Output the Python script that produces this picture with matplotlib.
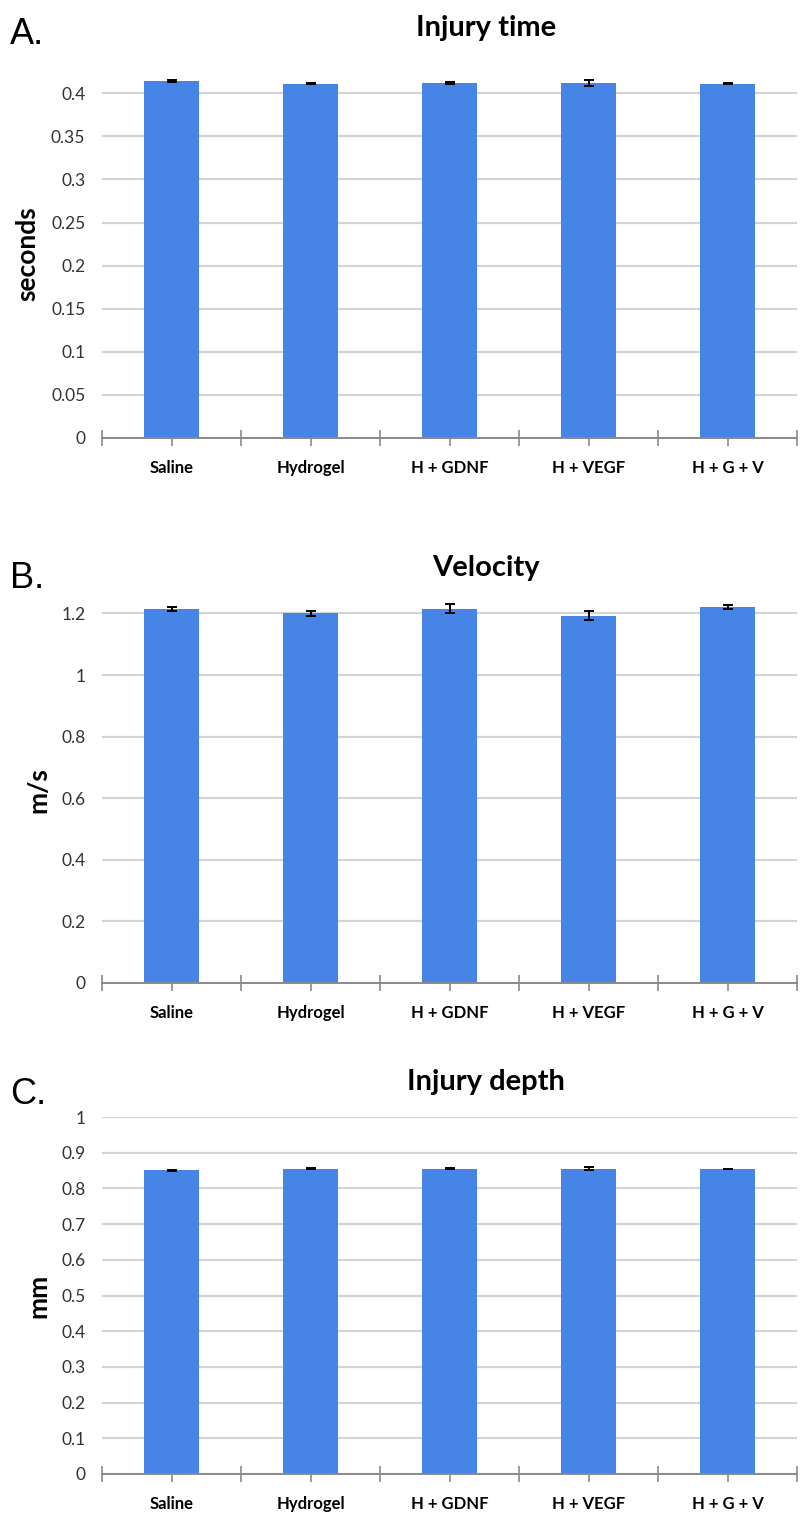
import matplotlib.pyplot as plt
import numpy as np

groups = ["Saline", "Hydrogel", "H + GDNF", "H + VEGF", "H + G + V"]

time_vals = [0.414, 0.411, 0.412, 0.412, 0.411]
time_err = [0.001, 0.0006, 0.001, 0.003, 0.0006]
time_ticks = [0, 0.05, 0.1, 0.15, 0.2, 0.25, 0.3, 0.35, 0.4]
time_labels = ["0", "0.05", "0.1", "0.15", "0.2", "0.25", "0.3", "0.35", "0.4"]

vel_vals = [1.215, 1.2, 1.215, 1.192, 1.22]
vel_err = [0.007, 0.009, 0.014, 0.015, 0.006]
vel_ticks = [0, 0.2, 0.4, 0.6, 0.8, 1.0, 1.2]
vel_labels = ["0", "0.2", "0.4", "0.6", "0.8", "1", "1.2"]

depth_vals = [0.851, 0.855, 0.855, 0.855, 0.854]
depth_err = [0.0015, 0.002, 0.002, 0.004, 0.001]
depth_ticks = [0, 0.1, 0.2, 0.3, 0.4, 0.5, 0.6, 0.7, 0.8, 0.9, 1.0]
depth_labels = ["0", "0.1", "0.2", "0.3", "0.4", "0.5", "0.6", "0.7", "0.8", "0.9", "1"]

W, H = 801, 1515
fig = plt.figure(figsize=(W / 100, H / 100), dpi=100)

bar_color = "#4684e6"
axis_gray = "#8a8a8a"
grid_gray = "#d4d4d4"

def panel(top, bottom, vals, err, ticks, labels, ymax, title, ylabel, letter, title_y, letter_y):
    left, right = 102, 797
    ax = fig.add_axes([left / W, 1 - bottom / H, (right - left) / W, (bottom - top) / H])
    x = np.arange(len(groups))
    ax.bar(x, vals, width=0.4, color=bar_color, zorder=3)
    ax.errorbar(x, vals, yerr=err, fmt="none", ecolor="black", elinewidth=1.4,
                capsize=3.5, capthick=1.4, zorder=4)
    ax.set_xlim(-0.5, len(groups) - 0.5)
    ax.set_ylim(0, ymax)
    ax.set_yticks(ticks)
    ax.set_yticklabels(labels, fontsize=12.5, color="#333333", family="Lato")
    ax.yaxis.grid(True, color=grid_gray, linewidth=1.6, zorder=0)
    ax.tick_params(axis="y", length=0, pad=12)
    for s in ["top", "right", "left"]:
        ax.spines[s].set_visible(False)
    ax.spines["bottom"].set_color(axis_gray)
    ax.spines["bottom"].set_linewidth(1.4)
    ax.spines["bottom"].set_zorder(5)
    ax.set_xticks(x)
    ax.set_xticklabels(groups, fontsize=12, fontweight="bold", family="Lato")
    ax.set_xticks(np.arange(-0.5, len(groups)), minor=True)
    ax.tick_params(axis="x", which="major", direction="out", length=6,
                   color=axis_gray, width=1.2, pad=10)
    ax.tick_params(axis="x", which="minor", direction="inout", length=12,
                   color=axis_gray, width=1.2)
    ax.set_ylabel(ylabel, fontsize=19, fontweight="bold", family="Lato", labelpad=8)
    fig.text(486 / W, 1 - title_y / H, title, fontsize=21, fontweight="bold",
             family="Lato", ha="center", va="center")
    fig.text(10 / W, 1 - letter_y / H, letter, fontsize=26, family="Liberation Sans",
             ha="left", va="center")
    return ax

panel(70, 438, time_vals, time_err, time_ticks, time_labels, 0.427,
      "Injury time", "seconds", "A.", 28, 34)
panel(598, 983, vel_vals, vel_err, vel_ticks, vel_labels, 1.25,
      "Velocity", "m/s", "B.", 568, 578)
panel(1117, 1474, depth_vals, depth_err, depth_ticks, depth_labels, 1.0,
      "Injury depth", "mm", "C.", 1082, 1094)

fig.savefig("out.png", dpi=100)
